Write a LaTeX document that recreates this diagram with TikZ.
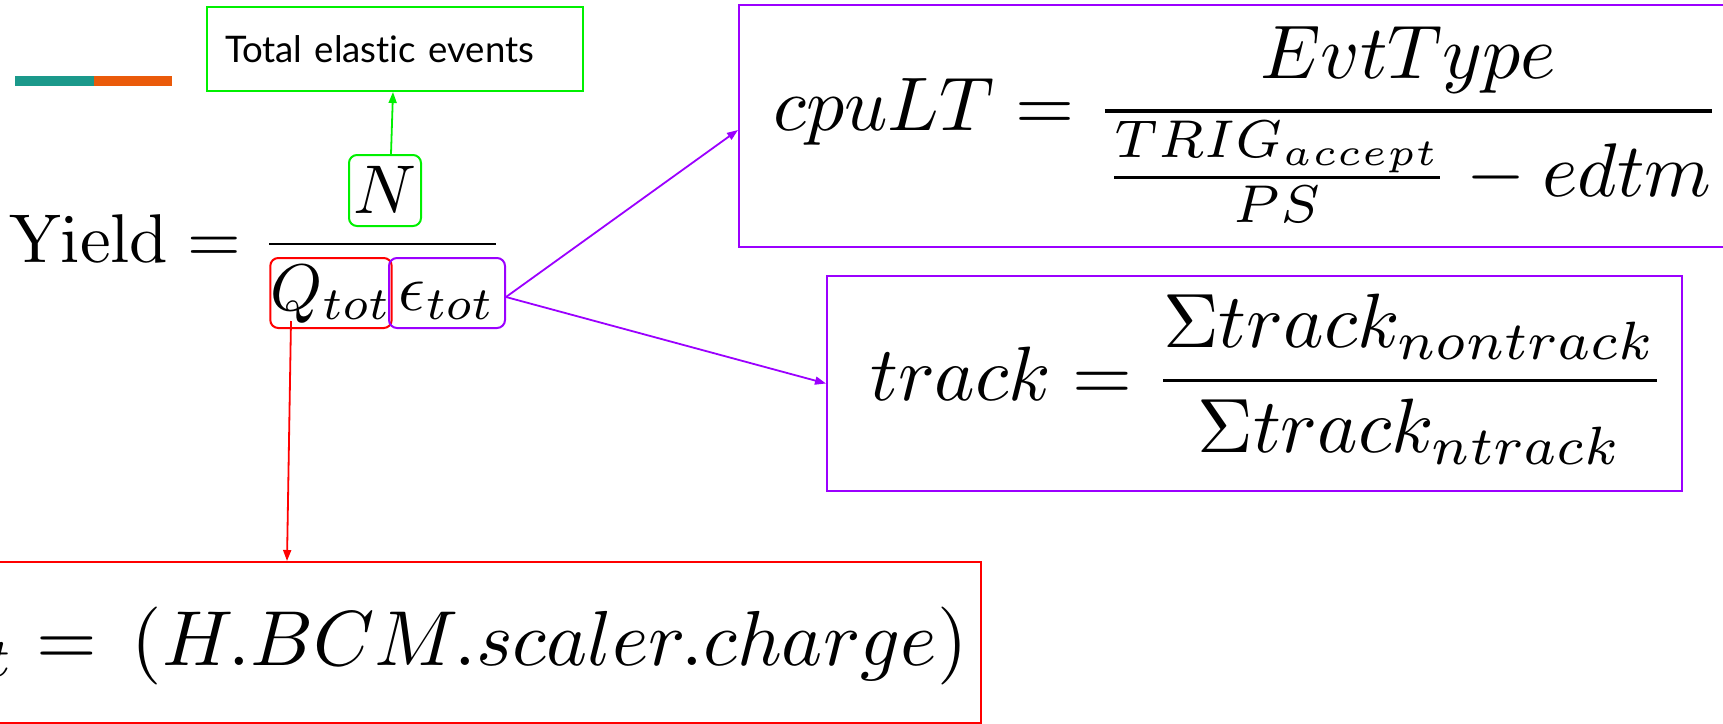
\documentclass[tikz,border=0pt]{standalone}
\usepackage{graphicx}
\usepackage[no-math]{fontspec}
\newfontfamily\latofont{Lato}[Ligatures=NoCommon]
\usetikzlibrary{arrows.meta}

\definecolor{slideteal}{HTML}{1B998B}
\definecolor{slideorange}{HTML}{EA5A0A}
\definecolor{notegreen}{HTML}{00F000}
\definecolor{notepurple}{HTML}{9B00FF}
\definecolor{notered}{HTML}{FF0000}

% formulas are set at 10pt and blown up, as in the pasted images
\newcommand\bigeq[2]{\scalebox{#1}{$\displaystyle #2$}}
\newcommand\latosize{\latofont\fontsize{36.6}{44}\selectfont}

\tikzset{
  partbox/.style={draw=#1, line width=2pt, rounded corners=8pt, inner sep=0pt, anchor=base},
  eqframe/.style={draw=#1, line width=2pt, inner sep=0pt},
  eqtext/.style={inner sep=0pt},
  pointer/.style={color=#1, line width=1.8pt, -{Triangle[length=11pt,width=8pt]}},
}

\begin{document}
\begin{tikzpicture}[x=1pt,y=-1pt]
      \useasboundingbox (0,0) rectangle (1723,723);
      \clip (0,0) rectangle (1723,723);
      % accent bar of the slide
      \fill[slideteal] (15,76) rectangle (94,86);
      \fill[slideorange] (94,76) rectangle (172,86);

      % yield = N / (Q eps)
      \node[eqtext, anchor=base west] (yield) at (9,262) {\bigeq{6.9}{\mathrm{Yield} =}};
      \draw[line width=2.7pt] (269,244) -- (496,244);
      \node[partbox=notegreen, text height=58pt, text depth=13pt, minimum width=72pt] (nbox) at (385,213) {\bigeq{6.9}{N}};
      \node[partbox=notered, text height=52pt, text depth=18pt, minimum width=118pt] (qbox) at (331,310) {\bigeq{6.6}{Q_{tot}}};
      \node[partbox=notepurple, text height=52pt, text depth=18pt, minimum width=116pt] (epsbox) at (447,310) {\bigeq{6.6}{\epsilon_{tot}}};

      % note and formula frames
      \node[draw=notegreen, line width=2pt, anchor=north west, minimum height=84pt, text width=340pt,
            inner xsep=18pt, inner ysep=0pt, align=left, font=\latosize] (totbox) at (206,6) {Total elastic events};
      \node[eqframe=notepurple, minimum width=1000pt, minimum height=242pt, anchor=north west] (cpubox) at (738,4) {};
      \node[eqtext, anchor=base west] (cputext) at (773,130)
        {\bigeq{7.6}{cpuLT = \frac{EvtType}{\frac{TRIG_{accept}}{PS}-edtm}}};
      \node[eqframe=notepurple, minimum width=855pt, minimum height=215pt, anchor=north west] (trackbox) at (826,275) {};
      \node[eqtext, anchor=base west] (tracktext) at (870,400)
        {\bigeq{7.7}{track = \frac{\Sigma track_{nontrack}}{\Sigma track_{ntrack}}}};
      \node[eqframe=notered, minimum width=1100pt, minimum height=161pt, anchor=north east] (chargebox) at (982,561) {};
      \node[eqtext, anchor=base east] (chargetext) at (968,665) {\bigeq{7.8}{Q_{tot} = \,(H.BCM.scaler.charge)}};

      % pointers
      \draw[pointer=notegreen] ([xshift=6pt]nbox.north) -- ([xshift=8pt]nbox.north |- totbox.south);
      \draw[pointer=notered] ([xshift=-40pt,yshift=8pt]qbox.south) -- (287,0 |- chargebox.north);
      \draw[pointer=notepurple] ([yshift=-4pt]epsbox.east) -- ([yshift=-4pt]cpubox.west);
      \draw[pointer=notepurple] ([yshift=-4pt]epsbox.east) -- (trackbox.west);
    \end{tikzpicture}
\end{document}
